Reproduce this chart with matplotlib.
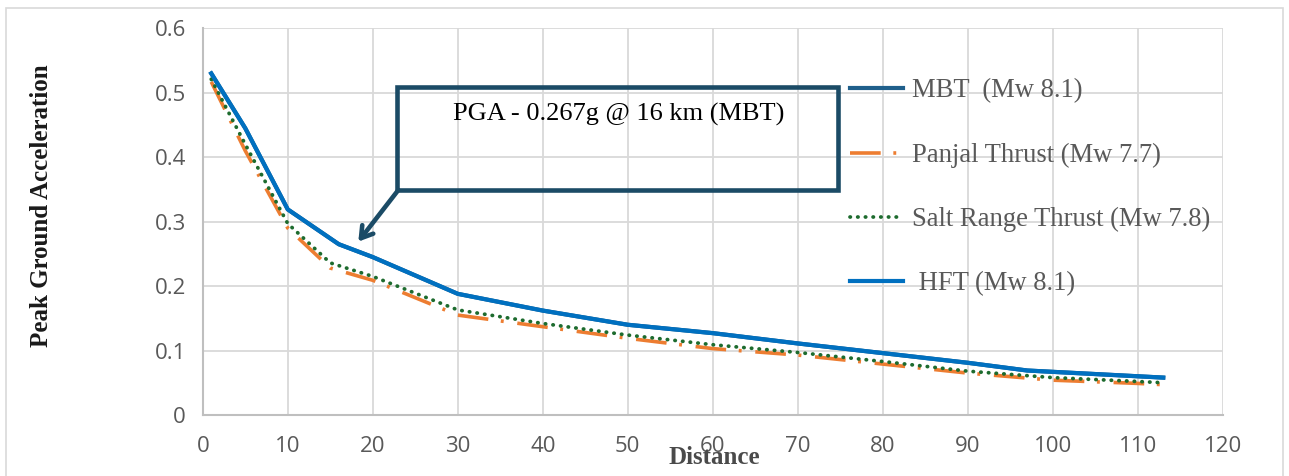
import matplotlib
matplotlib.use("Agg")
import matplotlib.pyplot as plt
from matplotlib.patches import Rectangle

# distances (km) and PGA values (g)
hft_dist = [1, 5, 10, 16, 20, 30, 40, 50, 60, 70, 80, 90, 97, 113]
hft_pga = [0.530, 0.445, 0.319, 0.265, 0.245, 0.188, 0.162, 0.140, 0.127, 0.111, 0.096, 0.081, 0.069, 0.058]

# MBT sits right under the HFT curve
mbt_dist = [1, 5, 10, 16, 20, 30, 40, 50, 60, 70, 80, 90, 97, 113]
mbt_pga = [0.530, 0.445, 0.319, 0.265, 0.245, 0.188, 0.162, 0.140, 0.127, 0.111, 0.096, 0.081, 0.069, 0.058]

other_dist = [1, 5, 10, 15, 20, 30, 40, 50, 60, 70, 80, 90, 100, 110, 113]
salt_pga = [0.521, 0.420, 0.297, 0.236, 0.215, 0.163, 0.142, 0.124, 0.109, 0.097, 0.083, 0.068, 0.058, 0.052, 0.050]
panjal_pga = [0.517, 0.410, 0.290, 0.228, 0.209, 0.155, 0.137, 0.119, 0.103, 0.093, 0.079, 0.065, 0.054, 0.049, 0.047]

x_ticks = [0, 10, 20, 30, 40, 50, 60, 70, 80, 90, 100, 110, 120]
y_ticks = [0, 0.1, 0.2, 0.3, 0.4, 0.5, 0.6]
y_tick_labels = ["0", "0.1", "0.2", "0.3", "0.4", "0.5", "0.6"]

TEAL = "#1B4B66"
GRID = "#D9D9D9"
TICK_COL = "#595959"
SERIF = "Liberation Serif"

fig = plt.figure(figsize=(12.89, 4.76), dpi=100)
ax = fig.add_axes([0.1573, 0.1282, 0.7913, 0.8123])

# outer chart border
fig.patches.append(Rectangle((6 / 1289, -0.1), (1283 - 6) / 1289, 1.1 - 8 / 476,
                             transform=fig.transFigure, fill=False,
                             edgecolor="#D9D9D9", lw=1.2))

ax.plot(mbt_dist, mbt_pga, color="#1F5F8B", lw=3.0, label="MBT  (Mw 8.1)")
ax.plot(other_dist, panjal_pga, color="#ED7D31", lw=2.6,
        linestyle=(0, (8.5, 3.5, 0.8, 3.8)), dash_capstyle="butt",
        label="Panjal Thrust (Mw 7.7)")
ax.plot(other_dist, salt_pga, color="#1D6B2E", lw=2.7,
        linestyle=(0, (0.1, 1.95)), dash_capstyle="round",
        label="Salt Range Thrust (Mw 7.8)")
ax.plot(hft_dist, hft_pga, color="#0070C0", lw=3.0, label=" HFT (Mw 8.1)")

ax.set_xlim(0, 120)
ax.set_ylim(0, 0.6)
ax.set_xticks(x_ticks)
ax.set_yticks(y_ticks)
ax.set_yticklabels(y_tick_labels)
ax.grid(True, color=GRID, lw=1.3)
ax.set_axisbelow(True)
for side in ["top", "right"]:
    ax.spines[side].set_visible(False)
for side in ["left", "bottom"]:
    ax.spines[side].set_color("#BFBFBF")
    ax.spines[side].set_linewidth(1.5)
ax.tick_params(length=0, labelcolor=TICK_COL, labelsize=16)
ax.tick_params(axis="x", pad=15)
ax.tick_params(axis="y", pad=12)
for lbl in ax.get_xticklabels() + ax.get_yticklabels():
    lbl.set_fontfamily("Open Sans")

# callout box with arrow
ax.add_patch(Rectangle((22.9, 0.349), 74.7 - 22.9, 0.509 - 0.349,
                       fill=False, edgecolor=TEAL, lw=3.3, zorder=5))
ax.text(48.9, 0.466, "PGA - 0.267g @ 16 km (MBT)", ha="center", va="center",
        fontsize=19, fontfamily=SERIF, color="black", zorder=6)
ax.annotate("", xy=(18.3, 0.269), xytext=(23.0, 0.349),
            arrowprops=dict(arrowstyle="->,head_length=0.8,head_width=0.5",
                            lw=3.3, color=TEAL, shrinkA=0, shrinkB=0),
            zorder=6)

leg = ax.legend(loc="upper left", bbox_to_anchor=(0.6346, 0.87), frameon=False,
                borderaxespad=0, borderpad=0, handlelength=2.0,
                handletextpad=0.33, labelspacing=1.47,
                prop={"family": SERIF, "size": 19.2})
for t in leg.get_texts():
    t.set_color(TICK_COL)

fig.text(42 / 1289, 1 - 206 / 476, "Peak Ground Acceleration", rotation=90,
         ha="center", va="center", fontsize=18, fontweight="bold",
         fontfamily=SERIF, color="#1a1a1a")
fig.text(714 / 1289, 1 - 458 / 476, "Distance", ha="center", va="center",
         fontsize=18, fontweight="bold", fontfamily=SERIF, color="#4a4a4a")

fig.savefig("out.png", dpi=100)
